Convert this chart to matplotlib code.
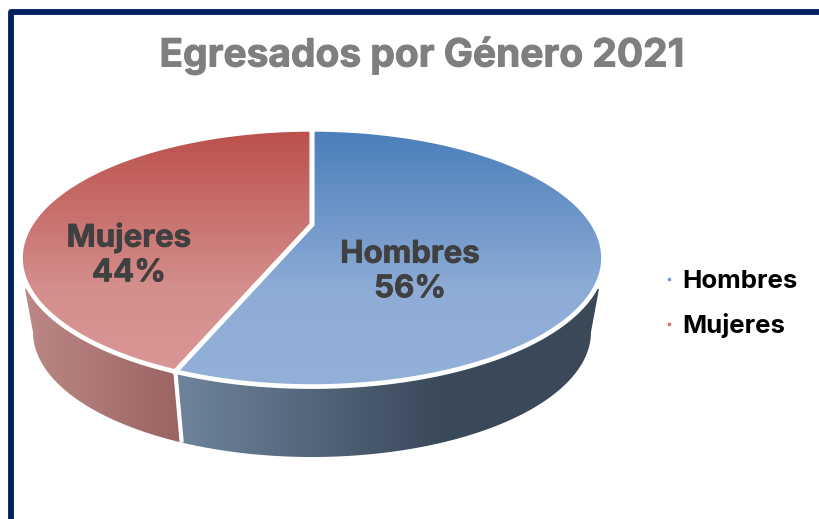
import numpy as np
import matplotlib
matplotlib.use('Agg')
import matplotlib.pyplot as plt
import matplotlib.patheffects as pe
from matplotlib.colors import LinearSegmentedColormap
from matplotlib.lines import Line2D
from matplotlib.patches import Polygon

categories = ['Hombres', 'Mujeres']
shares = [56, 44]
title = 'Egresados por Género 2021'

plt.rcParams['font.family'] = ['Inter', 'DejaVu Sans']

# geometria del pastel en pixeles
CX, CY = 312, 257.5
RX, RY = 291.5, 128.5
APEX = 33
TILT = 0.26
D = 281.5
# elipse inferior de la pared lateral
BOTTOM_Y, BOTTOM_RX, BOTTOM_RY = 332, 279, 125
PHI_CUT = np.arcsin(0.236)
CORNER_DX, CORNER_Y = 287, 289


def project(angle):
    # circulo unitario -> elipse con perspectiva (el centro queda arriba)
    u, v = np.cos(angle), np.sin(angle)
    den = 1 + TILT * v
    return CX + D * u / den, CY - (RY * v + APEX) / den


def gradient(ax, patch, colors, horizontal=False):
    cmap = LinearSegmentedColormap.from_list('g', colors)
    x0, y0 = patch.get_xy().min(axis=0)
    x1, y1 = patch.get_xy().max(axis=0)
    g = np.linspace(0, 1, 256)
    g = g[None, :] if horizontal else g[:, None]
    im = ax.imshow(g, cmap=cmap, extent=(x0, x1, y1, y0), aspect='auto', zorder=patch.get_zorder())
    im.set_clip_path(patch)


fig = plt.figure(figsize=(8.2, 5.19), dpi=100)
ax = fig.add_axes([0, 0, 1, 1])

# angulos de cada rebanada, sentido horario desde arriba
edges = np.pi / 2 - 2 * np.pi * np.cumsum([0] + shares) / sum(shares)

top_colors = [[(0, '#4a7ebb'), (0.63, '#8eacd5'), (1, '#92b0d8')],
              [(0, '#bb4f4b'), (0.66, '#d48f8d'), (1, '#d99694')]]
side_colors = [[(0, '#6f849c'), (0.62, '#3b4a5b'), (1, '#3a4858')],
               [(0, '#bb8886'), (1, '#9b6361')]]

# paredes laterales
for i in range(2):
    t = np.linspace(edges[i], edges[i + 1], 500)
    x, y = project(t)
    phi = np.unwrap(np.arctan2((y - CY) / RY, (x - CX) / RX))
    if i == 0:
        keep = phi >= PHI_CUT
        phi_b = np.linspace(phi[-1], 0, 200)
        corner_x = CX + CORNER_DX
        rim_x, rim_y = np.r_[corner_x, x[keep]], np.r_[CORNER_Y, y[keep]]
    else:
        keep = phi <= np.pi - PHI_CUT
        phi_b = np.linspace(np.pi, phi[0], 200)
        corner_x = CX - CORNER_DX
        rim_x, rim_y = np.r_[x[keep], corner_x], np.r_[y[keep], CORNER_Y]
    xb = CX + BOTTOM_RX * np.cos(phi_b)
    yb = BOTTOM_Y + BOTTOM_RY * np.sin(phi_b)
    pts = np.column_stack([np.r_[rim_x, xb], np.r_[rim_y, yb]])
    side = Polygon(pts, closed=True, facecolor='none', edgecolor='none', zorder=2)
    ax.add_patch(side)
    gradient(ax, side, side_colors[i], horizontal=True)
    # separacion blanca entre las paredes
    if i == 0:
        ax.plot([x[-1], xb[0]], [y[-1], yb[0]], color='white', lw=3.0, zorder=3, solid_capstyle='butt')

# caras superiores
for i in range(2):
    t = np.linspace(edges[i], edges[i + 1], 400)
    x, y = project(t)
    pts = np.column_stack([np.r_[CX, x], np.r_[CY - APEX, y]])
    face = Polygon(pts, closed=True, facecolor='none', edgecolor='none', zorder=4)
    ax.add_patch(face)
    gradient(ax, face, top_colors[i])
    ax.add_patch(Polygon(pts, closed=True, facecolor='none', edgecolor='white', lw=3.4, joinstyle='miter', zorder=5))

# borde azul del marco
ax.plot([11.5, 11.5, 830], [530, 11.5, 11.5], color='#002060', lw=4.2, solid_joinstyle='round', zorder=6)

ax.text(421.5, 55, title, ha='center', va='center', fontsize=28, fontweight='bold', color='#7f7f7f',
        path_effects=[pe.withStroke(linewidth=0.7, foreground='#7f7f7f')])

labels_pos = [(410, 272), (129, 255)]
for name, share, (lx, ly) in zip(categories, shares, labels_pos):
    ax.text(lx, ly, f'{name}\n{share}%', ha='center', va='center', fontsize=22.5, fontweight='bold',
            color='#404040', linespacing=1.3, zorder=7,
            path_effects=[pe.withStroke(linewidth=0.5, foreground='#404040')])

handles = [Line2D([], [], linestyle='none', marker='s', markersize=1.9, color=c)
           for c in ['#6f9bd1', '#d0716e']]
ax.legend(handles, categories, loc='center left', bbox_to_anchor=(663 / 820, 1 - 304 / 519), frameon=False,
          prop={'size': 18.6, 'weight': 'bold'}, labelcolor='black', handlelength=0.5, handletextpad=0.25,
          labelspacing=0.75, borderpad=0, borderaxespad=0)

ax.set_xlim(0, 820)
ax.set_ylim(519, 0)
ax.axis('off')
fig.savefig('out.png', dpi=100, facecolor='white')
